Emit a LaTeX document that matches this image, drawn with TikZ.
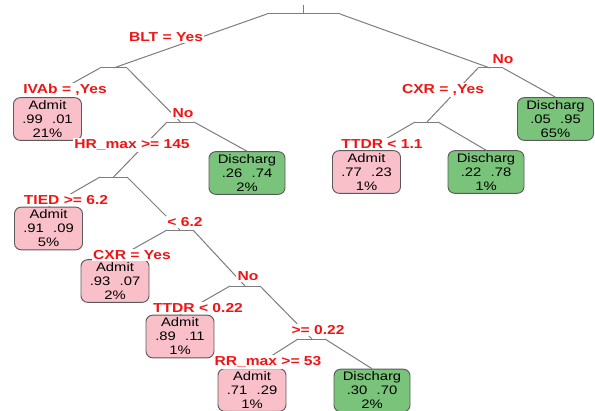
\documentclass[tikz,border=0pt]{standalone}
\usepackage{fontspec}
\setmainfont[FakeStretch=1.2]{Liberation Sans}
\definecolor{pinkfill}{RGB}{250,192,201}
\definecolor{greenfill}{RGB}{122,195,122}
\definecolor{boxline}{RGB}{90,90,90}
\definecolor{branch}{RGB}{125,125,125}
\definecolor{lab}{RGB}{240,20,20}
\begin{document}
\begin{tikzpicture}[x=0.75pt,y=-0.75pt,
 leaf/.style={draw=boxline, line width=0.7pt, rounded corners=5pt, minimum height=32pt, align=center, inner sep=0pt, font=\fontsize{9.25}{10.5}\selectfont},
 admit/.style={leaf, fill=pinkfill, minimum width=51pt},
 disch/.style={leaf, fill=greenfill, minimum width=57pt},
 br/.style={draw=branch, line width=0.75pt},
 lbl/.style={text=lab, fill=white, inner sep=1pt, font=\fontsize{9.75}{11}\selectfont\bfseries}]
\useasboundingbox (0,0) rectangle (595,410);
\fill[white] (0,0) rectangle (595,410);
% leaves
\node[admit] (A21) at (47.5,119) {Admit\\.99\hspace{7pt}.01\\21\%};
\node[disch] (D65) at (555.5,119) {Discharg\\.05\hspace{7pt}.95\\65\%};
\node[disch] (D2) at (247,173) {Discharg\\.26\hspace{7pt}.74\\2\%};
\node[admit] (A1c) at (366.5,172) {Admit\\.77\hspace{7pt}.23\\1\%};
\node[disch] (D1) at (486,172) {Discharg\\.22\hspace{7pt}.78\\1\%};
\node[admit] (A5) at (48.5,228.5) {Admit\\.91\hspace{7pt}.09\\5\%};
\node[admit] (A2) at (115,281) {Admit\\.93\hspace{7pt}.07\\2\%};
\node[admit] (A1) at (180,336.5) {Admit\\.89\hspace{7pt}.11\\1\%};
\node[admit] (A1b) at (252,390) {Admit\\.71\hspace{7pt}.29\\1\%};
\node[disch] (D2b) at (372,390.5) {Discharg\\.30\hspace{7pt}.70\\2\%};
% split points
\coordinate (rt) at (303,5);
\coordinate (rc) at (303,14); \coordinate (rl) at (267,14); \coordinate (rr) at (340,14);
\coordinate (n2c) at (113.5,68); \coordinate (n2l) at (100,68); \coordinate (n2r) at (127,68);
\coordinate (n3c) at (490,68); \coordinate (n3l) at (478,68); \coordinate (n3r) at (503,68);
\coordinate (n4c) at (180.5,122); \coordinate (n4l) at (167,122); \coordinate (n4r) at (194,122);
\coordinate (n5c) at (427,122); \coordinate (n5l) at (415,122); \coordinate (n5r) at (438,122);
\coordinate (n6c) at (113.5,177); \coordinate (n6l) at (100,177); \coordinate (n6r) at (127,177);
\coordinate (n7c) at (180,230); \coordinate (n7l) at (167,230); \coordinate (n7r) at (193,230);
\coordinate (n8c) at (245,286); \coordinate (n8l) at (230,286); \coordinate (n8r) at (260,286);
\coordinate (n9c) at (312,339); \coordinate (n9l) at (298,339); \coordinate (n9r) at (325,339);
% shoulders
\draw[br] (rt) -- (rc);
\draw[br] (rl) -- (rr);
\draw[br] (n2l) -- (n2r);
\draw[br] (n3l) -- (n3r);
\draw[br] (n4l) -- (n4r);
\draw[br] (n5l) -- (n5r);
\draw[br] (n6l) -- (n6r);
\draw[br] (n7l) -- (n7r);
\draw[br] (n8l) -- (n8r);
\draw[br] (n9l) -- (n9r);
% branches
\draw[br] (rl) -- (n2c);
\draw[br] (rr) -- (n3c);
\draw[br] (n2l) -- (A21.north);
\draw[br] (n2r) -- (n4c);
\draw[br] (n3l) -- (n5c);
\draw[br] (n3r) -- (D65.north);
\draw[br] (n4l) -- (n6c);
\draw[br] (n4r) -- (D2.north);
\draw[br] (n5l) -- (A1c.north);
\draw[br] (n5r) -- (D1.north);
\draw[br] (n6l) -- (A5.north);
\draw[br] (n6r) -- (n7c);
\draw[br] (n7l) -- (A2.north);
\draw[br] (n7r) -- (n8c);
\draw[br] (n8l) -- (A1.north);
\draw[br] (n8r) -- (n9c);
\draw[br] (n9l) -- (A1b.north);
\draw[br] (n9r) -- (D2b.north);
% labels
\node[lbl] (L1) at (166,37) {BLT = Yes};
\node[lbl] (L2) at (503,59) {No};
\node[lbl] (L3) at (65,90) {IVAb = ,Yes};
\node[lbl] (L4) at (183,113) {No};
\node[lbl] (L5) at (132,145) {HR\_max >= 145};
\node[lbl] (L6) at (443,90) {CXR = ,Yes};
\node[lbl] (L7) at (382,144) {TTDR < 1.1};
\node[lbl] (L8) at (66,200) {TIED >= 6.2};
\node[lbl] (L9) at (185,222) {< 6.2};
\node[lbl] (L10) at (132,255) {CXR = Yes};
\node[lbl] (L11) at (248,276) {No};
\node[lbl] (L12) at (198,308) {TTDR < 0.22};
\node[lbl] (L13) at (318,330) {>= 0.22};
\node[lbl] (L14) at (268,362) {RR\_max >= 53};
\end{tikzpicture}
\end{document}
